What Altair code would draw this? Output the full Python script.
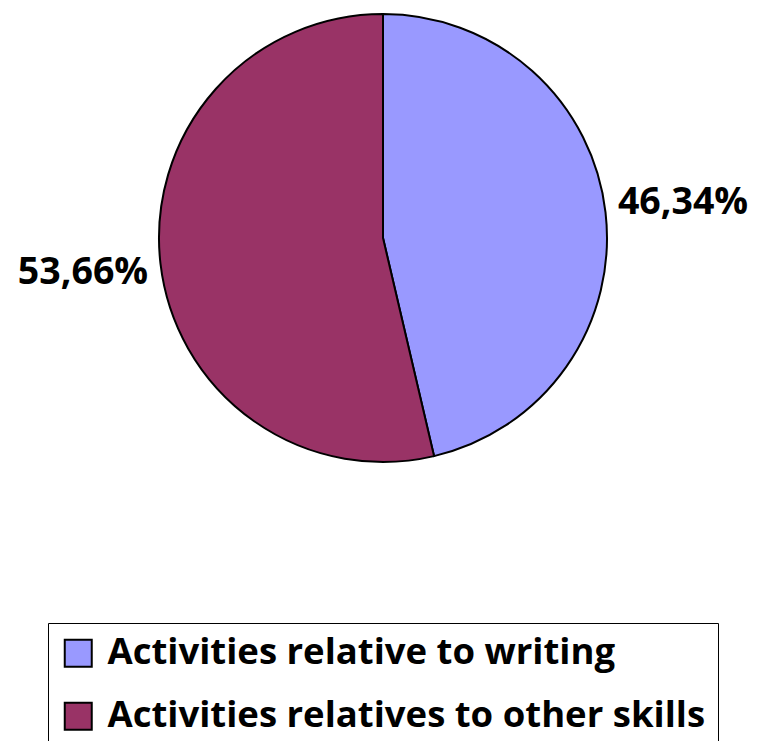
import altair as alt
import pandas as pd

categories = ["Activities relative to writing", "Activities relatives to other skills"]
values = [46.34, 53.66]
labels = ["46,34%", "53,66%"]
colors = ["#9999FF", "#993366"]
order = [0, 1]

df = pd.DataFrame({"category": categories, "value": values, "label": labels, "order": order})

base = alt.Chart(df).encode(
    theta=alt.Theta("value:Q", stack=True),
    order=alt.Order("order:Q"),
)

pie = base.mark_arc(outerRadius=224, stroke="black", strokeWidth=2).encode(
    color=alt.Color(
        "category:N",
        sort=categories,
        scale=alt.Scale(domain=categories, range=colors),
        legend=alt.Legend(
            title=None,
            orient="none",
            legendX=40,
            legendY=615,
            direction="vertical",
            symbolType="square",
            symbolSize=729,
            symbolStrokeColor="black",
            symbolStrokeWidth=2,
            symbolOpacity=1,
            labelFont="Open Sans",
            labelFontWeight="bold",
            labelFontSize=36.5,
            labelColor="black",
            labelOffset=11,
            labelLimit=1000,
            rowPadding=26,
            padding=12,
            strokeColor="black",
            fillColor="white",
        ),
    ),
    x=alt.value(375),
    y=alt.value(230),
)

text = base.mark_text(
    radius=302, font="Open Sans", fontWeight="bold", fontSize=37.5, color="black"
).encode(text="label:N", x=alt.value(375), y=alt.value(230))

chart = (
    alt.layer(pie, text)
    .properties(width=741, height=733, padding=0, autosize=alt.AutoSizeParams(type="none"))
    .configure_view(stroke=None)
)

chart.save("out.html", embed_options={"renderer": "svg", "actions": False})
